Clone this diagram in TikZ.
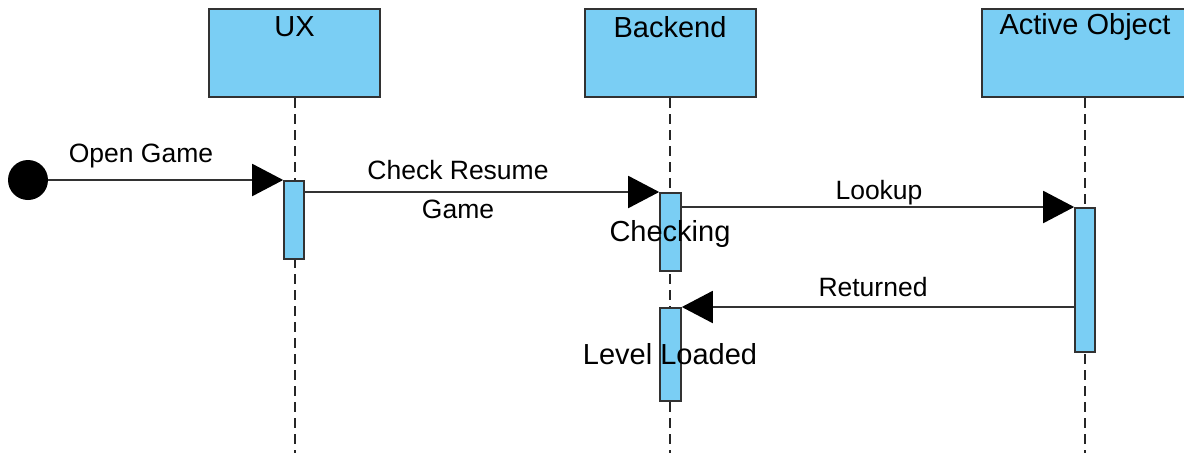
\documentclass[tikz,border=0pt]{standalone}
\usepackage{fontspec}
\setmainfont{Liberation Sans}
\usetikzlibrary{arrows.meta}
\definecolor{boxblue}{RGB}{122,206,244}
\definecolor{linegray}{RGB}{50,50,50}

\begin{document}
\begin{tikzpicture}[x=1pt, y=-1pt, >={Triangle[length=31pt,width=32pt,color=black]},
    lifebox/.style={draw=linegray, line width=2pt, fill=boxblue, minimum width=171pt, minimum height=88pt, inner sep=0pt, anchor=north},
    actbar/.style={draw=linegray, line width=1.6pt, fill=boxblue, minimum width=20pt, inner sep=0pt, anchor=north},
    lifeline/.style={draw=black!85, line width=2pt, dash pattern=on 10pt off 6pt},
    msg/.style={draw=linegray, line width=2pt},
    lbl/.style={font=\fontsize{26.5}{39}\selectfont, align=center, inner sep=1pt},
    biglbl/.style={lbl, font=\fontsize{29}{34}\selectfont}]
    \useasboundingbox (0,0) rectangle (1184,453);

    % lifeline heads
    \node[lifebox] (ux) at (294.5,8) {};
    \node[lifebox] (be) at (670,8) {};
    \node[lifebox, minimum width=206pt] (ao) at (1085,8) {};
    \foreach \n/\txt in {ux/UX, be/Backend, ao/Active Object} {
        \node[biglbl] (\n t) at ([yshift=-19pt]\n.north) {\txt};
        \draw[lifeline] (\n.south) -- (\n.south |- 0,453);
    }

    % activations
    \node[actbar, minimum height=78pt] (uxact) at (294,180) {};
    \node[actbar, minimum width=21pt, minimum height=78pt] (beact1) at (670.5,192) {};
    \node[actbar, minimum width=21pt, minimum height=93pt] (beact2) at (670.5,307) {};
    \node[actbar, minimum height=144pt] (aoact) at (1085,207) {};

    \node[circle, fill=black, minimum size=40pt, inner sep=0pt] (start) at (28,180) {};

    % messages
    \draw[msg, ->] (start) -- (uxact.north west);
    \draw[msg, ->] (uxact.east |- beact1.north) -- (beact1.north west);
    \draw[msg, ->] (beact1.east |- aoact.north) -- (aoact.north west);
    \draw[msg, ->] (aoact.west |- beact2.north) -- (beact2.north east);

    \node[lbl] (lopen) at (141,156) {Open Game};
    \node[lbl] (lcheck) at (458,189.5) {Check Resume\\Game};
    \node[lbl, fill=white] (llookup) at (879,193) {Lookup};
    \node[lbl] (lret) at (873,287) {Returned};
    \node[biglbl] (lchk) at (670,234) {Checking};
    \node[biglbl] (llevel) at (670,354) {Level Loaded};
\end{tikzpicture}
\end{document}
